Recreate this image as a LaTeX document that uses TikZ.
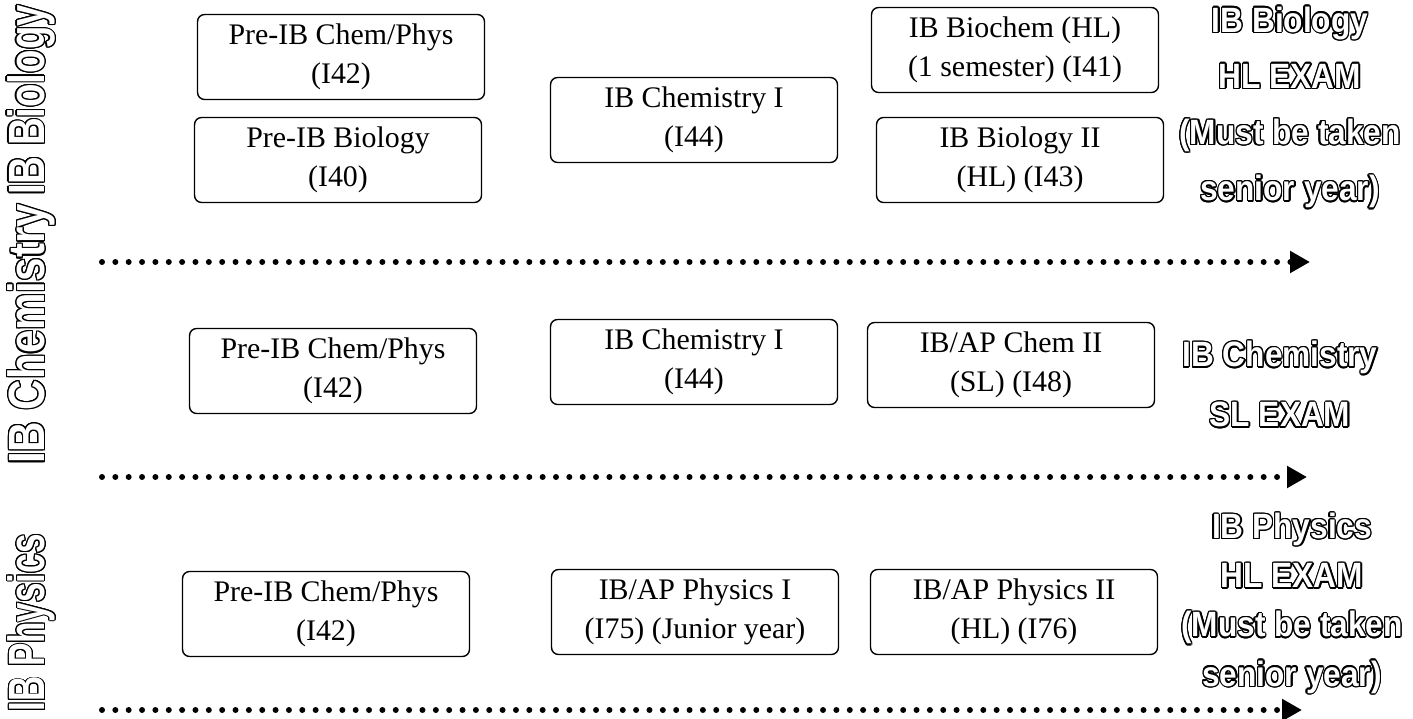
\documentclass[tikz,border=0pt]{standalone}
\usepackage{fontspec}
\setmainfont{Liberation Serif}
\newfontfamily\examfont{Liberation Sans}
\usepackage{graphicx}
\usepackage[copies]{contour}
\contourlength{0.8pt}
\usetikzlibrary{arrows.meta}
\tikzstyle{course}=[draw,rounded corners=4pt,line width=0.8pt,minimum width=5.74cm,minimum height=1.7cm,align=center,inner sep=2pt,font=\fontsize{17}{22}\selectfont]
\tikzstyle{exam}=[align=center,inner sep=0pt,font=\examfont\bfseries\fontsize{20}{32}\selectfont]
\tikzstyle{side}=[rotate=90,inner sep=0pt,font=\examfont\bfseries\fontsize{29}{29}\selectfont]
\tikzstyle{track}=[line width=3.4pt,line cap=round,dash pattern=on 0pt off 7.6pt,-{Triangle[length=0.4cm,width=0.42cm]}]
\newcommand{\hollow}[1]{\contour{black}{\textcolor{white}{#1}}}
\newcommand{\exline}[1]{\scalebox{0.9}[1]{\hollow{#1}}}
\newcommand{\sidelabel}[2]{\resizebox{#1}{\height}{\hollow{#2}}}

\begin{document}
\begin{tikzpicture}[x=0.02cm,y=-0.02cm]
    \useasboundingbox (0,0) rectangle (1413,719);
    % subject names down the left side
    \node[side] (sbio) at (32,100) {\sidelabel{3.8cm}{IB Biology}};
    \node[side] (schem) at (32,334) {\sidelabel{5.2cm}{IB Chemistry}};
    \node[side] (sphys) at (32,623) {\sidelabel{3.55cm}{IB Physics}};

    % biology track
    \node[course] (b1) at (341,57) {Pre-IB Chem/Phys\\(I42)};
    \node[course] (b2) at (338,160) {Pre-IB Biology\\(I40)};
    \node[course] (b3) at (694,120) {IB Chemistry I\\(I44)};
    \node[course] (b4) at (1015,50) {IB Biochem (HL)\\(1 semester) (I41)};
    \node[course] (b5) at (1020,160) {IB Biology II\\(HL) (I43)};
    \node[exam] (xbio) at (1290,108) {\exline{IB Biology}\\\exline{HL EXAM}\\\exline{(Must be taken}\\\exline{senior year)}};

    % chemistry track
    \node[course] (c1) at (333,371) {Pre-IB Chem/Phys\\(I42)};
    \node[course] (c2) at (694,362) {IB Chemistry I\\(I44)};
    \node[course] (c3) at (1011,365) {IB/AP Chem II\\(SL) (I48)};
    \node[exam,font=\examfont\bfseries\fontsize{20}{34}\selectfont] (xchem) at (1280,385) {\exline{IB Chemistry}\\\exline{SL EXAM}};

    % physics track
    \node[course] (p1) at (326,614) {Pre-IB Chem/Phys\\(I42)};
    \node[course] (p2) at (695,612) {IB/AP Physics I\\(I75) (Junior year)};
    \node[course] (p3) at (1014,612) {IB/AP Physics II\\(HL) (I76)};
    \node[exam,font=\examfont\bfseries\fontsize{20}{28}\selectfont] (xphys) at (1292,604) {\exline{IB Physics}\\\exline{HL EXAM}\\\exline{(Must be taken}\\\exline{senior year)}};

    % time lines under each track
    \coordinate (t1a) at (102,262);
    \coordinate (t1b) at (1310,262);
    \coordinate (t2a) at (102,477);
    \coordinate (t2b) at (1307,477);
    \coordinate (t3a) at (102,710);
    \coordinate (t3b) at (1302,710);
    \foreach \from/\to in {t1a/t1b,t2a/t2b,t3a/t3b}
    \draw[track] (\from) -- (\to);
\end{tikzpicture}
\end{document}
